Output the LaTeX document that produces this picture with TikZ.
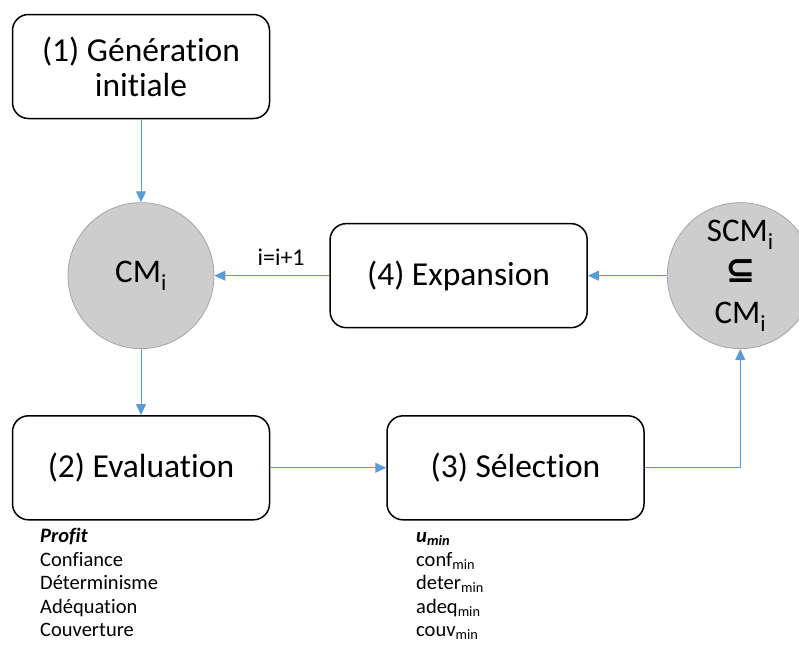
\documentclass[tikz,border=0pt]{standalone}
\usepackage{fontspec}
\setmainfont{Carlito}[Ligatures={NoCommon}]
\newfontfamily\symfont{DejaVu Sans}
\usepackage{xcolor}
\usepackage{tikz}
\usetikzlibrary{arrows.meta, positioning, shapes.geometric}
\definecolor{arrblue}{RGB}{91,155,213}
\definecolor{cfill}{RGB}{205,205,205}
\definecolor{cdraw}{RGB}{165,165,165}
\tikzset{
  stage/.style={rectangle, rounded corners=16pt, draw=black, line width=1.5pt,
                fill=white, minimum width=257pt, minimum height=104pt,
                align=center, inner sep=0pt,
                font=\fontsize{33.5}{35}\selectfont},
  pool/.style={circle, draw=cdraw, line width=0.8pt, fill=cfill,
               minimum size=146pt, inner sep=0pt, align=center,
               font=\fontsize{33}{41}\selectfont},
  crit/.style={anchor=north west, inner sep=0pt, align=left,
               font=\fontsize{20.5}{23.5}\selectfont},
  arr/.style={-{Triangle[length=11pt,width=10pt]}, draw=arrblue, line width=1pt},
}

\begin{document}
\begin{tikzpicture}[x=1pt, y=-1pt]
  \clip (0,0) rectangle (799,645);
  \node[stage] (gen) at (141,66.5) {(1) Génération\\initiale};
  \node[pool, below=83pt of gen]   (cm)   {CM\textsubscript{i}};
  \node[stage, below=66pt of cm]   (eval) {(2) Evaluation};
  \node[stage, right=116pt of eval] (sel) {(3) Sélection};
  \node[stage, right=115pt of cm]  (exp)  {(4) Expansion};
  \node[pool, right=79pt of exp]   (scm)
    {SCM\textsubscript{i}\\{\symfont\bfseries\fontsize{36}{41}\selectfont ⊆}\\CM\textsubscript{i}};
  \coordinate (turn) at (scm.south |- sel.east);
  \node[crit] (profit) at (40,526)
    {\strut\textbf{\textit{Profit}}\\Confiance\\Déterminisme\\Adéquation\\Couverture};
  \node[crit] (umin) at (416,526)
    {\strut\textbf{\textit{u\textsubscript{min}}}\\conf\textsubscript{min}\\deter\textsubscript{min}\\adeq\textsubscript{min}\\couv\textsubscript{min}};
  \draw[arr](gen)--(cm);
  \draw[arr](cm)--(eval);
  \draw[arr](eval)--(sel);
  \draw[arr](sel.east)--(turn)--(scm.south);
  \draw[arr](scm)--(exp);
  \draw[arr](exp)--node[pos=0.42, above=6pt, font=\fontsize{24}{26}\selectfont]{i=i+1}(cm);
\end{tikzpicture}
\end{document}
